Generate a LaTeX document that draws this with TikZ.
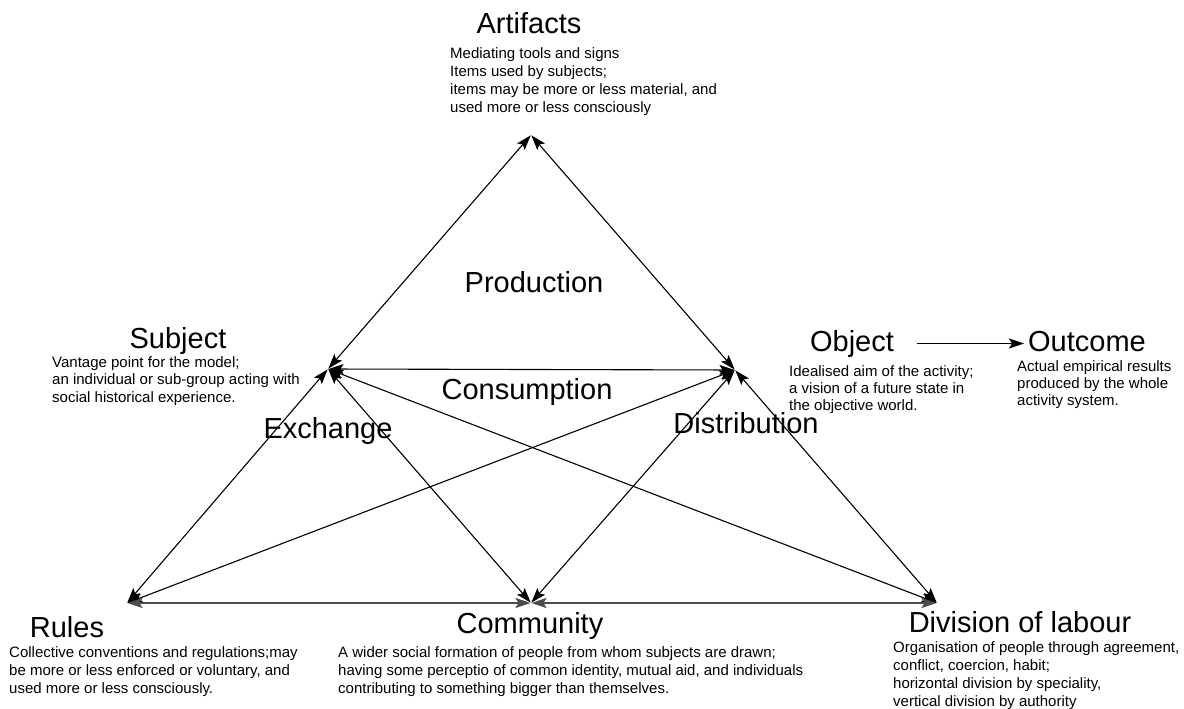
\documentclass[tikz,border=0pt]{standalone}
\usepackage{fontspec}
\setmainfont{Liberation Sans}
\usetikzlibrary{arrows.meta}
\begin{document}
\begin{tikzpicture}[x=1pt,y=-1pt,
  tip/.tip={Stealth[length=15pt,width=10pt,inset=3pt]},
  link/.style={tip-tip, line width=1.1pt, shorten <=0.5pt, shorten >=0.5pt},
  baseline link/.style={link, draw=black!70, line width=1.6pt},
  oarrow/.style={-tip, line width=1.1pt},
  title/.style={font=\fontsize{29}{30}\selectfont, inner sep=0pt, anchor=base, text height=21pt, text depth=6pt},
  desc/.style={font=\fontsize{15}{17.5}\selectfont, inner sep=0pt, anchor=north west, align=left},
]
\useasboundingbox (0,0) rectangle (1184,709);
% vertices
\coordinate (A) at (531,135);
\coordinate (S) at (328,369);
\coordinate (O) at (735,370);
\coordinate (R) at (127,603);
\coordinate (C) at (531,603);
\coordinate (D) at (937,603);
% connectors
\draw[link] (S) -- (A);
\draw[link] (O) -- (A);
\draw[link] (S) -- (O);
\draw[link] (S) -- (R);
\draw[link] (S) -- (C);
\draw[link] (S) -- (D);
\draw[link] (O) -- (R);
\draw[link] (O) -- (C);
\draw[link] (O) -- (D);
\draw[baseline link] (R) -- (C);
\draw[baseline link] (C) -- (D);
% titles
\node[title] (artT) at (529,34) {Artifacts};
\node[title] (subT) at (178,348) {Subject};
\node[title] (objT) at (852,351) {Object};
\node[title] (outT) at (1087,351) {Outcome};
\node[title] (rulT) at (67,637) {Rules};
\node[title] (comT) at (530,633) {Community};
\node[title] (divT) at (1020,632) {Division of labour};
\draw[oarrow, shorten <=23pt, shorten >=4pt] (objT.east) -- (outT.west);
% inner labels
\node[title] (prodT) at (534,292) {Production};
\node[title] (consT) at (527,399) {Consumption};
\node[title] (exchT) at (328,438) {Exchange};
\node[title] (distT) at (746,433) {Distribution};
% descriptions
\node[desc, font=\fontsize{15}{18}\selectfont] (artD) at (450,47) {Mediating tools and signs\\Items used by subjects;\\items may be more or less material, and\\used more or less consciously};
\node[desc] (subD) at (52,356) {Vantage point for the model;\\an individual or sub-group acting with\\social historical experience.};
\node[desc, font=\fontsize{15}{17}\selectfont] (objD) at (789,365) {Idealised aim of the activity;\\a vision of a future state in\\the objective world.};
\node[desc, font=\fontsize{15}{17}\selectfont] (outD) at (1017,360) {Actual empirical results\\produced by the whole\\activity system.};
\node[desc, font=\fontsize{15}{18}\selectfont] (rulD) at (9,646) {Collective conventions and regulations;may\\be more or less enforced or voluntary, and\\used more or less consciously.};
\node[desc, font=\fontsize{15}{18}\selectfont] (comD) at (338,646) {A wider social formation of people from whom subjects are drawn;\\having some perceptio of common identity, mutual aid, and individuals\\contributing to something bigger than themselves.};
\node[desc, font=\fontsize{15}{18}\selectfont] (divD) at (893,641) {Organisation of people through agreement,\\conflict, coercion, habit;\\horizontal division by speciality,\\vertical division by authority};
\end{tikzpicture}
\end{document}
